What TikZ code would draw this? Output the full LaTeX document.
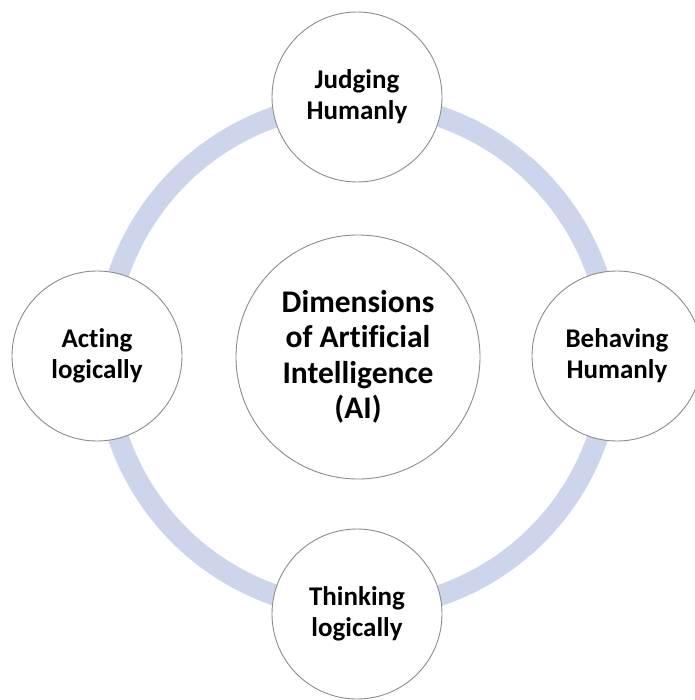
\documentclass[tikz,border=0pt]{standalone}
\usepackage{fontspec}
\setmainfont{Carlito}[Ligatures=CommonOff]
\usepackage{tikz}
\usetikzlibrary{positioning}

\definecolor{ringblue}{RGB}{205,213,237}
\definecolor{rimgray}{RGB}{140,140,140}

\begin{document}
\begin{tikzpicture}[x=1pt, y=-1pt,
    dimbox/.style={circle, draw=rimgray, line width=0.9pt, fill=white,
        minimum size=170pt, inner sep=0pt, align=center,
        font=\fontsize{27}{31}\selectfont\bfseries},
    corebox/.style={dimbox, minimum size=244pt,
        font=\fontsize{31.5}{35.5}\selectfont\bfseries},
    ring/.style={draw=ringblue, line width=21pt}]
    \useasboundingbox (0,0) rectangle (694,700);

    % Ring behind the four dimensions
    \coordinate (hub) at (358,356);
    \draw[ring] (hub) circle (253);

    % Centre
    \node[corebox] (core) at (358,357) {Dimensions\\of Artificial\\Intelligence\\(AI)};

    % Four dimensions
    \node[dimbox] (judging) at (357,97) {Judging\\Humanly};
    \node[dimbox] (acting) at (97,356) {Acting\\logically};
    \node[dimbox] (behaving) at (617,356) {Behaving\\Humanly};
    \node[dimbox] (thinking) at (357,614) {Thinking\\logically};
\end{tikzpicture}
\end{document}
